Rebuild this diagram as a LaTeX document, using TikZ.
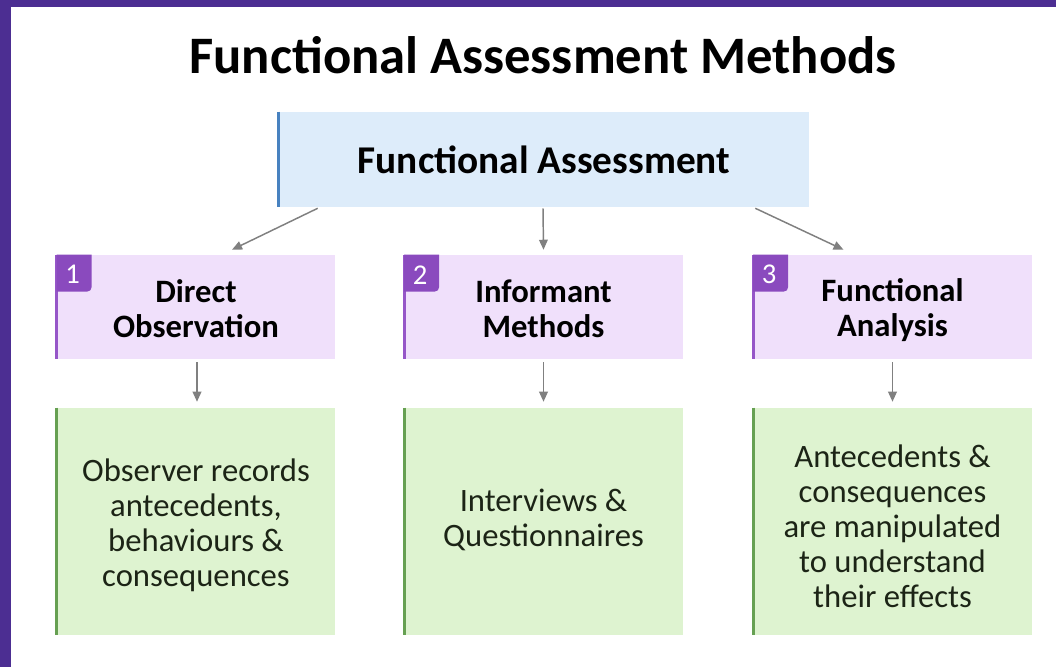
\documentclass[tikz,border=0pt]{standalone}
\usepackage{fontspec}
\setmainfont{Carlito}
\usetikzlibrary{arrows.meta,calc}

\definecolor{framepurple}{RGB}{76,46,146}
\definecolor{bluefill}{RGB}{221,236,250}
\definecolor{blueedge}{RGB}{72,130,192}
\definecolor{lilacfill}{RGB}{240,224,251}
\definecolor{lilacedge}{RGB}{150,86,200}
\definecolor{badgecol}{RGB}{138,74,190}
\definecolor{greenfill}{RGB}{222,243,208}
\definecolor{greenedge}{RGB}{102,160,82}
\definecolor{arrowgray}{RGB}{128,128,128}
\definecolor{bodytext}{RGB}{28,36,22}

\begin{document}
\begin{tikzpicture}[x=0.75pt,y=0.75pt,yscale=-1,xscale=1,
  topbox/.style={fill=bluefill,minimum width=397.5pt,minimum height=71.25pt,inner sep=0pt,
    font=\fontsize{29.5}{34}\selectfont\bfseries},
  methodbox/.style={fill=lilacfill,minimum width=208.5pt,minimum height=78pt,inner sep=0pt,
    align=center,font=\fontsize{24.5}{26.25}\selectfont\bfseries},
  detailbox/.style={fill=greenfill,minimum width=208.5pt,minimum height=170.25pt,inner sep=0pt,
    align=center,text=bodytext,font=\fontsize{24.5}{26.25}\selectfont},
  numtxt/.style={text=white,inner sep=0pt,font=\fontsize{21.5}{21.5}\selectfont},
  arr/.style={draw=arrowgray,line width=1.1pt,-{Triangle[length=7.5pt,width=6.5pt]}}
]
\path[use as bounding box] (0,0) rectangle (1056,667);

%Frame
\fill[white] (0,0) rectangle (1056,667);
\fill[framepurple] (0,0) rectangle (11,667);
\fill[framepurple] (0,0) rectangle (1056,7);

% Text Node
\node[inner sep=0pt,font=\fontsize{39.5}{44}\selectfont\bfseries] (title) at (543,55) {Functional Assessment Methods};

%Shape: Rectangle
\node[topbox] (fa) at (544,159.5) {Functional Assessment};
\draw[blueedge,line width=2pt] (fa.north west) -- (fa.south west);

%Shape: Rectangle
\node[methodbox] (direct) at (196,307) {};
\node[methodbox] (informant) at (543.5,307) {};
\node[methodbox] (analysis) at (892.5,307) {};

% Text Node
\node[methodbox,fill=none,minimum height=0pt] (directlbl) at (196,308.5) {Direct\\Observation};
\node[methodbox,fill=none,minimum height=0pt] (informantlbl) at (543.5,308.5) {Informant\\Methods};
\node[methodbox,fill=none,minimum height=0pt] (analysislbl) at (892.5,310.5) {Functional\\Analysis};

%Straight Lines
\draw[lilacedge,line width=2pt] (direct.north west) -- (direct.south west);
\draw[lilacedge,line width=2pt] (informant.north west) -- (informant.south west);
\draw[lilacedge,line width=2pt] (analysis.north west) -- (analysis.south west);

%Shape: Badges
\fill[badgecol] (direct.north west) -- ++(35,0) -- ++(0,32) .. controls +(0,3) and +(3,0) .. ++(-5,5) -- ++(-30,0) -- cycle;
\fill[badgecol] (informant.north west) -- ++(35,0) -- ++(0,32) .. controls +(0,3) and +(3,0) .. ++(-5,5) -- ++(-30,0) -- cycle;
\fill[badgecol] (analysis.north west) -- ++(35,0) -- ++(0,32) .. controls +(0,3) and +(3,0) .. ++(-5,5) -- ++(-30,0) -- cycle;
% Text Node
\node[numtxt] (n1) at ($(direct.north west)+(16,20)$) {1};
\node[numtxt] (n2) at ($(informant.north west)+(16,20)$) {2};
\node[numtxt] (n3) at ($(analysis.north west)+(16,20)$) {3};

%Shape: Rectangle
\node[detailbox] (directtxt) at (196,521.5) {};
\node[detailbox] (informanttxt) at (543.5,521.5) {};
\node[detailbox] (analysistxt) at (892.5,521.5) {};

% Text Node
\node[detailbox,fill=none,minimum height=0pt] (directlines) at (196,525) {Observer records\\antecedents,\\behaviours \&\\consequences};
\node[detailbox,fill=none,minimum height=0pt] (informantlines) at (543.5,519.5) {Interviews \&\\Questionnaires};
\node[detailbox,fill=none,minimum height=0pt] (analysislines) at (892.5,526) {Antecedents \&\\consequences\\are manipulated\\to understand\\their effects};

%Straight Lines
\draw[greenedge,line width=2pt] (directtxt.north west) -- (directtxt.south west);
\draw[greenedge,line width=2pt] (informanttxt.north west) -- (informanttxt.south west);
\draw[greenedge,line width=2pt] (analysistxt.north west) -- (analysistxt.south west);

%Arrows
\draw[arr] ($(fa.south west)+(39,1)$) -- ($(direct.north)+(36,-5)$);
\draw[arr] ($(fa.south)+(-1,1)$) -- ($(informant.north)+(0,-5)$);
\draw[arr] ($(fa.south east)+(-54,1)$) -- ($(analysis.north)+(-49,-5)$);

\draw[arr] ($(direct.south)+(1,3)$) -- ($(directtxt.north)+(1,-6)$);
\draw[arr] ($(informant.south)+(0,3)$) -- ($(informanttxt.north)+(0,-6)$);
\draw[arr] ($(analysis.south)+(0,3)$) -- ($(analysistxt.north)+(0,-6)$);

\end{tikzpicture}
\end{document}
